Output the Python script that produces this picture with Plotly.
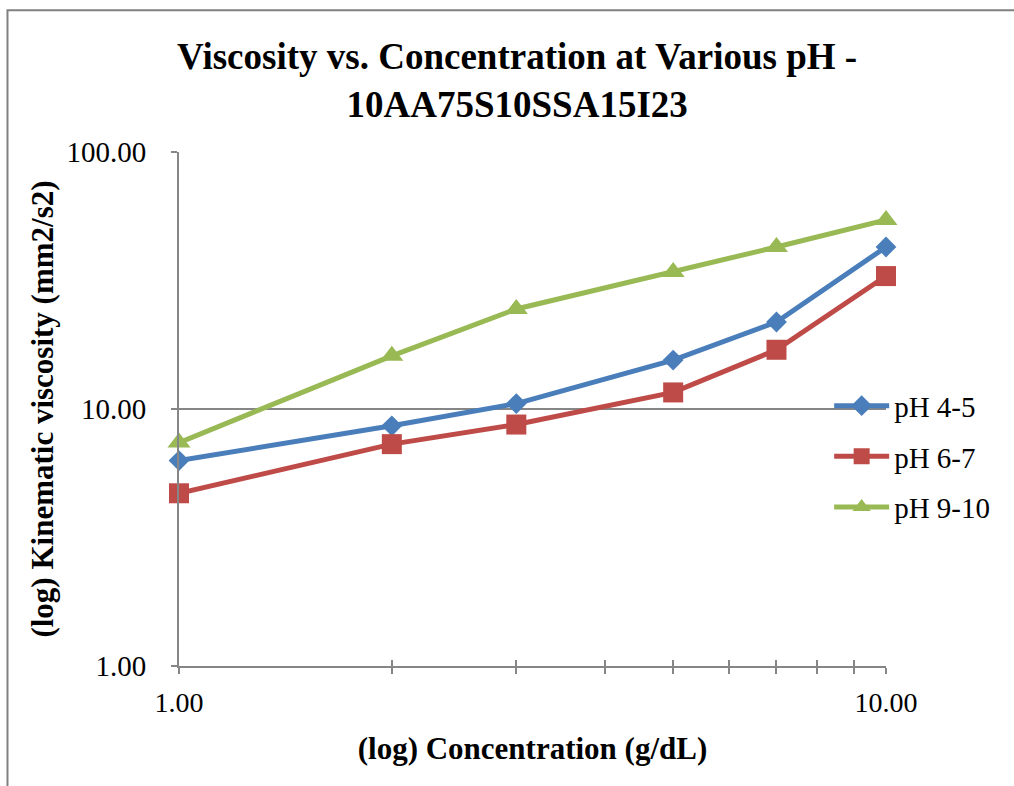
import plotly.graph_objects as go

# Concentration (g/dL) and kinematic viscosity (mm2/s2) per pH range
concentration = [1, 2, 3, 5, 7, 10]
visc_ph_4_5 = [6.3, 8.6, 10.5, 15.5, 21.8, 42.7]
visc_ph_6_7 = [4.7, 7.3, 8.7, 11.6, 17.0, 32.9]
visc_ph_9_10 = [7.4, 16.1, 24.5, 34.1, 42.7, 54.4]

series_names = ["pH 4-5", "pH 6-7", "pH 9-10"]
series_colors = ["#4A7EBB", "#BE4B48", "#98B954"]
series_symbols = ["diamond", "square", "triangle-up"]
series_sizes = [16, 20, 20]

x_tick_vals = [1, 10]
x_tick_text = ["1.00", "10.00"]
x_minor_vals = [2, 3, 4, 5, 6, 7, 8, 9]
y_tick_vals = [1, 10, 100]
y_tick_text = ["1.00", "10.00", "100.00"]

FONT = "Liberation Serif, Times New Roman, serif"
AXIS_GRAY = "#868686"

fig = go.Figure()
for i, (name, vals) in enumerate(zip(series_names, [visc_ph_4_5, visc_ph_6_7, visc_ph_9_10])):
    fig.add_trace(go.Scatter(
        x=concentration, y=vals, name=name, mode="lines+markers",
        line=dict(color=series_colors[i], width=5),
        marker=dict(symbol=series_symbols[i], size=series_sizes[i], color=series_colors[i]),
        legendgroup=name, cliponaxis=False,
    ))

fig.update_layout(
    width=1014, height=786,
    paper_bgcolor="white", plot_bgcolor="white",
    margin=dict(l=179, r=128, t=152, b=120, autoexpand=False),
    font=dict(family=FONT, color="black", size=28),
    title=dict(
        text="<b>Viscosity vs. Concentration at Various pH -<br>10AA75S10SSA15I23</b>",
        x=0.51, xanchor="center", y=0.912, yanchor="top", yref="container",
        font=dict(family=FONT, size=37, color="black"),
    ),
    xaxis=dict(
        type="log", range=[0, 1], tickvals=x_tick_vals, ticktext=x_tick_text,
        showgrid=False, zeroline=False, showline=True, linecolor=AXIS_GRAY, linewidth=2,
        ticks="outside", ticklen=6, tickcolor=AXIS_GRAY, tickwidth=2,
        minor=dict(ticks="outside", ticklen=6, tickcolor=AXIS_GRAY, tickwidth=2,
                   tickvals=x_minor_vals, showgrid=False),
        tickfont=dict(size=28), ticklabelstandoff=4,
        title=dict(text="<b>(log) Concentration (g/dL)</b>", font=dict(size=31), standoff=21),
    ),
    xaxis2=dict(
        type="log", range=[0, 1], overlaying="x", showticklabels=False,
        showgrid=False, zeroline=False, showline=False,
        tickvals=x_tick_vals, ticks="inside", ticklen=6, tickcolor=AXIS_GRAY, tickwidth=2,
        minor=dict(ticks="inside", ticklen=6, tickcolor=AXIS_GRAY, tickwidth=2,
                   tickvals=x_minor_vals),
        anchor="y", side="bottom",
    ),
    yaxis=dict(
        type="log", range=[0, 2], tickvals=y_tick_vals, ticktext=y_tick_text,
        showgrid=True, gridcolor=AXIS_GRAY, gridwidth=2,
        zeroline=False, showline=True, linecolor=AXIS_GRAY, linewidth=2,
        ticks="outside", ticklen=6, tickcolor=AXIS_GRAY, tickwidth=2,
        tickfont=dict(size=29), ticklabelstandoff=19,
        title=dict(text="<b>(log) Kinematic viscosity (mm2/s2)</b>", font=dict(size=31), standoff=4),
    ),
    legend=dict(
        x=0.9196, xanchor="left", y=0.407, yanchor="middle",
        font=dict(family=FONT, size=29), itemwidth=55, tracegroupgap=10,
        bgcolor="rgba(0,0,0,0)", borderwidth=0,
    ),
    showlegend=True,
)

# Invisible trace to place the inside-tick overlay axis
fig.add_trace(go.Scatter(x=[1], y=[1], xaxis="x2", yaxis="y", mode="markers",
                         marker=dict(opacity=0), showlegend=False, hoverinfo="skip"))

# Outer chart border (top and left edges visible)
fig.add_shape(type="rect", xref="paper", yref="paper", x0=-0.2426, x1=1.3, y0=-0.3, y1=1.276,
              line=dict(color="#808080", width=2), fillcolor="rgba(0,0,0,0)", layer="below")

fig.write_html("out.html")
